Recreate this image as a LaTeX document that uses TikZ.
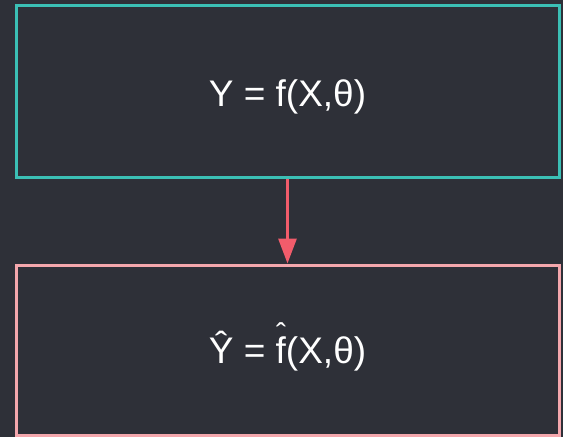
\documentclass[tikz,border=0pt]{standalone}
\usepackage{fontspec}
\setmainfont{Liberation Sans}
\usetikzlibrary{arrows.meta}
\definecolor{bg}{HTML}{2E3038}
\definecolor{teal}{HTML}{3BBFB5}
\definecolor{pinkb}{HTML}{F4A7AD}
\definecolor{arrowc}{HTML}{F25C6B}
\tikzset{
  box/.style={draw, line width=3pt, fill=bg, minimum width=543pt, text=white,
    font=\fontsize{37}{40}\selectfont, inner sep=0pt, text depth=0pt},
}
\begin{document}
\begin{tikzpicture}[x=1pt,y=-1pt]
\fill[bg] (0,0) rectangle (563,437);
\useasboundingbox (0,0) rectangle (563,437);
\node[box, draw=teal, minimum height=172pt, text height=30pt] (top) at (287.5,91) {Y = f(X,θ)};
\node[box, draw=pinkb, minimum height=170pt, text height=26pt] (bot) at (287.5,350)
  {Ŷ = \makebox[0pt][l]{\makebox[0.3em][c]{\raisebox{0.5em}{\fontsize{30}{30}\selectfont ˆ}}}f(X,θ)};
\draw[arrowc, line width=3pt, -{Triangle[width=18pt,length=25pt]}] (top.south) -- (bot.north);
\end{tikzpicture}
\end{document}
